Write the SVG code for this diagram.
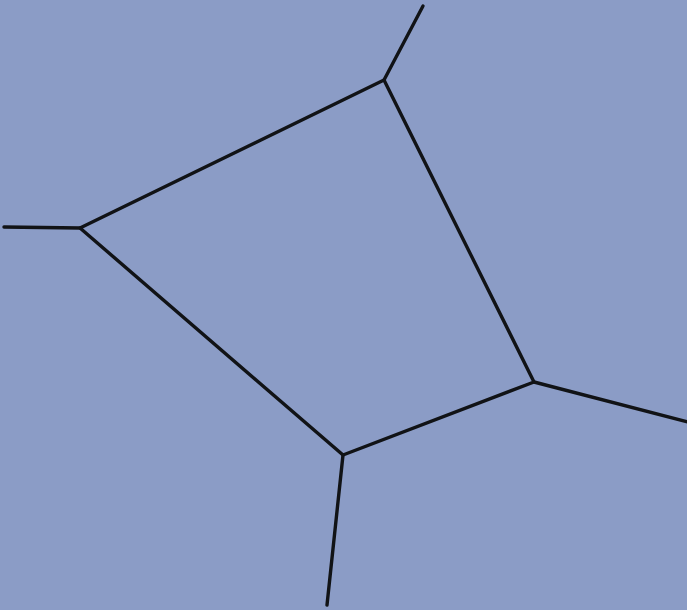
<svg xmlns="http://www.w3.org/2000/svg" width="687" height="610" viewBox="0 0 687 610">
<style>
.e{stroke:#111316;stroke-width:3.4;fill:none;stroke-linecap:round;stroke-linejoin:round}
</style>
<rect width="687" height="610" fill="#8b9cc6"/>
<g id="connectors">
<polygon class="e" points="384,80 80,228 343,455 534,382"/>
<line class="e" x1="384" y1="80" x2="423" y2="6"/>
<line class="e" x1="80" y1="228" x2="4" y2="227"/>
<line class="e" x1="343" y1="455" x2="327" y2="605"/>
<line class="e" x1="534" y1="382" x2="688" y2="422"/>
</g>
</svg>
